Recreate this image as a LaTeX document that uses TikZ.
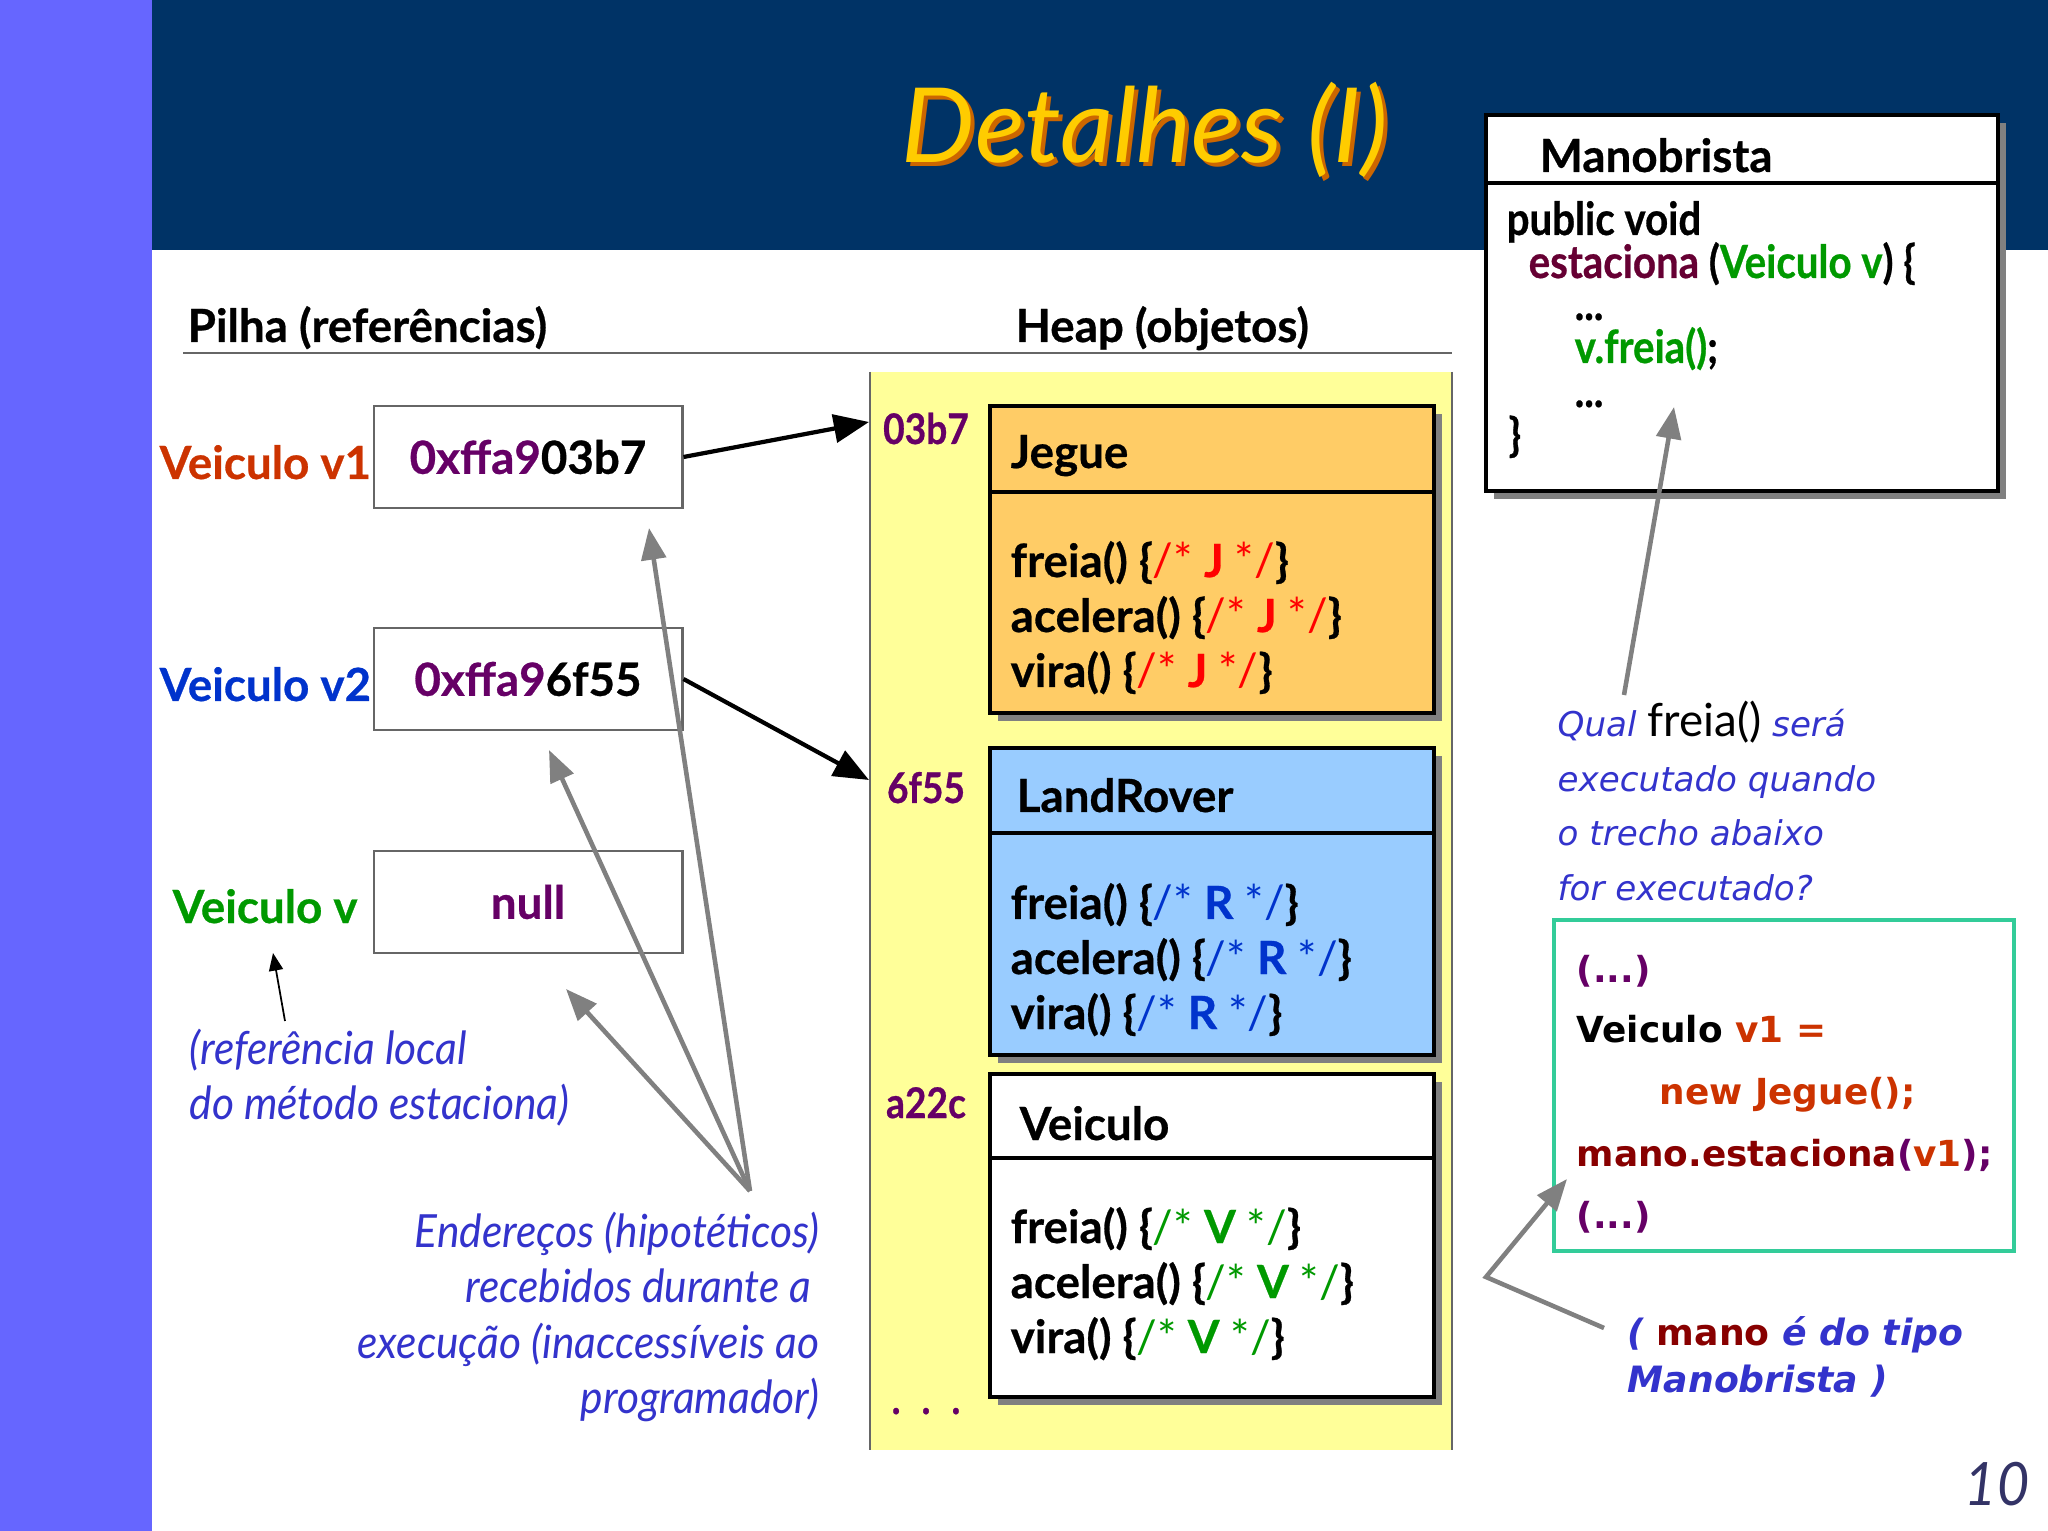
\documentclass[tikz,border=0pt]{standalone}
\usepackage{fontspec}
\setmainfont[BoldFeatures={FakeBold=0.6}]{Lato}
\newfontfamily\vfont{DejaVu Sans}
\newfontfamily\gsn[FakeStretch=0.93]{Lato}
\newfontfamily\gsb[FakeStretch=0.88,BoldFeatures={FakeBold=0.6}]{Lato}
\usetikzlibrary{arrows.meta}
\definecolor{navy}{HTML}{003366}
\definecolor{strip}{HTML}{6666FF}
\definecolor{heapy}{HTML}{FFFF99}
\definecolor{jegue}{HTML}{FFCC66}
\definecolor{rover}{HTML}{99CCFF}
\definecolor{notebl}{HTML}{3333CC}
\definecolor{purp}{HTML}{660066}
\definecolor{vone}{HTML}{CC3300}
\definecolor{vtwo}{HTML}{0033CC}
\definecolor{vgrn}{HTML}{009900}
\definecolor{tealb}{HTML}{33CC99}
\definecolor{titley}{HTML}{FFCC00}
\definecolor{titles}{HTML}{CC6600}
\definecolor{maroon}{HTML}{660033}
\definecolor{dred}{HTML}{880000}
\definecolor{agray}{HTML}{808080}
\definecolor{pnum}{HTML}{333366}
\newcommand\cmnt[2]{{\color{#1}\mdseries/*} {\color{#1}#2} {\color{#1}\mdseries*/}}
\tikzset{
  txt/.style={inner sep=0pt, anchor=base west, font=\fontsize{13}{15}\selectfont\bfseries},
  codetxt/.style={txt, font=\gsb\fontsize{13}{15}\selectfont\bfseries},
  addr/.style={inner sep=0pt, anchor=base, text=purp, font=\gsb\fontsize{12}{15}\selectfont\bfseries},
  note/.style={inner sep=0pt, anchor=base west, text=notebl, font=\gsn\fontsize{13}{15}\selectfont\itshape},
  noter/.style={note, anchor=base east},
  vq/.style={inner sep=0pt, anchor=base west, text=notebl, font=\vfont\fontsize{9.7}{12}\selectfont\itshape},
  vcode/.style={inner sep=0pt, anchor=base west, font=\vfont\fontsize{10.2}{12}\selectfont\bfseries},
  stackbox/.style={draw=black!60, fill=white, line width=0.8pt, minimum width=3.08cm, minimum height=1.02cm, inner sep=0pt, font=\fontsize{13}{15}\selectfont\bfseries},
  blk/.style={-{Triangle[length=10pt,width=8pt]}, line width=1.2pt, draw=black},
  gry/.style={-{Triangle[length=9pt,width=7pt]}, line width=1.3pt, draw=agray},
  thin/.style={-{Triangle[length=5pt,width=4pt]}, line width=0.5pt, draw=black},
  cls/.style={draw=black, line width=0.9pt},
  shade/.style={fill=agray}
}
\begin{document}
\begin{tikzpicture}[x=0.01cm,y=-0.01cm]
\useasboundingbox (0,0) rectangle (2048,1531);
\fill[white] (0,0) rectangle (2048,1531);
\fill[strip] (0,0) rectangle (152,1531);
\fill[navy] (152,0) rectangle (2048,250);

% title
\node[inner sep=0pt, anchor=base, text=titles, font=\fontsize{29.5}{32}\selectfont\itshape] (tshadow) at (1149,167) {Detalhes (I)};
\node[inner sep=0pt, anchor=base, text=titley, font=\fontsize{29.5}{32}\selectfont\itshape] (title) at (1145,163) {Detalhes (I)};

% heap area
\fill[heapy] (870,372) rectangle (1452,1450);
\draw[black!60, line width=0.8pt] (870,372) -- (870,1450);
\draw[black!60, line width=0.8pt] (1452,372) -- (1452,1450);
\draw[black!60, line width=0.8pt] (183,353) -- (1452,353);

\node[txt] (hpilha) at (187,342) {Pilha (referências)};
\node[txt] (hheap) at (1015,342) {Heap (objetos)};

% class boxes
\fill[shade] (998,414) rectangle (1442,721);
\filldraw[cls, fill=jegue] (990,406) rectangle (1434,713);
\draw[cls] (990,492) -- (1434,492);
\fill[shade] (998,756) rectangle (1442,1063);
\filldraw[cls, fill=rover] (990,748) rectangle (1434,1055);
\draw[cls] (990,833) -- (1434,833);
\fill[shade] (998,1082) rectangle (1442,1405);
\filldraw[cls, fill=white] (990,1074) rectangle (1434,1397);
\draw[cls] (990,1158) -- (1434,1158);

\node[txt] (jt) at (1010,468) {Jegue};
\node[txt] (j1) at (1010,577) {freia() \{\cmnt{red}{J}\}};
\node[txt] (j2) at (1010,632) {acelera() \{\cmnt{red}{J}\}};
\node[txt] (j3) at (1010,687) {vira() \{\cmnt{red}{J}\}};
\node[txt] (rt) at (1016,812) {LandRover};
\node[txt] (r1) at (1010,919) {freia() \{\cmnt{vtwo}{R}\}};
\node[txt] (r2) at (1010,974) {acelera() \{\cmnt{vtwo}{R}\}};
\node[txt] (r3) at (1010,1029) {vira() \{\cmnt{vtwo}{R}\}};
\node[txt] (vt) at (1019,1140) {Veiculo};
\node[txt] (v1m) at (1010,1243) {freia() \{\cmnt{vgrn}{V}\}};
\node[txt] (v2m) at (1010,1298) {acelera() \{\cmnt{vgrn}{V}\}};
\node[txt] (v3m) at (1010,1353) {vira() \{\cmnt{vgrn}{V}\}};

\node[addr] (a1) at (926,444) {03b7};
\node[addr] (a2) at (926,803) {6f55};
\node[addr] (a3) at (926,1118) {a22c};
\node[addr] (a4) at (926,1414) {.\hspace{6pt}.\hspace{6pt}.};

% stack
\node[stackbox] (b1) at (528,457) {\raisebox{-1.8pt}{{\color{purp}0xffa9}03b7}};
\node[stackbox] (b2) at (528,679) {\raisebox{-1.8pt}{{\color{purp}0xffa9}6f55}};
\node[stackbox] (b3) at (528,902) {\raisebox{-1.8pt}{\color{purp}null}};
\node[txt, text=vone] (l1) at (159,479) {Veiculo v1};
\node[txt, text=vtwo] (l2) at (159,701) {Veiculo v2};
\node[txt, text=vgrn] (l3) at (172,923) {Veiculo v};

\coordinate (h1) at (869,422);
\coordinate (h2) at (869,780);
\draw[blk] (b1.east) -- (h1);
\draw[blk] (b2.east) -- (h2);

% left notes
\node[note] (n1) at (189,1064) {(referência local};
\node[note] (n2) at (189,1119) {do método estaciona)};
\coordinate (nstart) at (285,1021);
\coordinate (nend) at (273,953);
\draw[thin] (nstart) -- (nend);

\node[noter] (e1) at (820,1247) {Endereços (hipotéticos)};
\node[noter] (e2) at (812,1302) {recebidos durante a};
\node[noter] (e3) at (820,1358) {execução (inaccessíveis ao};
\node[noter] (e4) at (820,1413) {programador)};
\coordinate (fan) at (750,1191);
\coordinate (f1) at (649,528);
\coordinate (f2) at (549,750);
\coordinate (f3) at (566,989);
\draw[gry] (fan) -- (f1);
\draw[gry] (fan) -- (f2);
\draw[gry] (fan) -- (f3);

% Manobrista
\fill[shade] (1494,123) rectangle (2006,499);
\filldraw[cls, fill=white] (1486,115) rectangle (1998,491);
\draw[cls] (1486,183) -- (1998,183);
\node[txt] (mt) at (1539,172) {Manobrista};
\node[codetxt] (m1) at (1506,235) {public void};
\node[codetxt] (m2) at (1528,278) {{\color{maroon}estaciona} ({\color{vgrn}Veiculo v}) \{};
\node[codetxt] (m3) at (1574,320) {...};
\node[codetxt] (m4) at (1574,363) {{\color{vgrn}v.freia()};};
\node[codetxt] (m5) at (1574,407) {...};
\node[codetxt] (m6) at (1508,451) {\}};

% question
\node[vq] (q1) at (1557,737) {Qual {\normalfont\fontsize{13}{15}\selectfont\color{black}freia()} será};
\node[vq] (q2) at (1557,791) {executado quando};
\node[vq] (q3) at (1557,846) {o trecho abaixo};
\node[vq] (q4) at (1557,901) {for executado?};
\coordinate (qs) at (1624,695);
\coordinate (qe) at (1674,407);
\draw[gry] (qs) -- (qe);

% code box
\draw[tealb, line width=1pt] (1554,920) rectangle (2014,1251);
\node[vcode, text=purp] (c1) at (1576,982) {(...)};
\node[vcode] (c2) at (1576,1042) {Veiculo {\color{vone}v1 =}};
\node[vcode, text=vone] (c3) at (1659,1104) {new Jegue();};
\node[vcode] (c4) at (1576,1166) {{\color{dred}mano.estaciona}{\color{purp}(}{\color{vone}v1}{\color{purp});}};
\node[vcode, text=purp] (c5) at (1576,1228) {(...)};

\node[vcode, text=notebl, font=\vfont\fontsize{10.3}{12}\selectfont\bfseries\itshape] (t1) at (1627,1345) {( {\upshape\color{dred}mano} é do tipo};
\node[vcode, text=notebl, font=\vfont\fontsize{10.3}{12}\selectfont\bfseries\itshape] (t2) at (1627,1392) {Manobrista )};
\coordinate (ts) at (1604,1328);
\coordinate (tm) at (1486,1277);
\coordinate (te) at (1567,1179);
\draw[gry] (ts) -- (tm) -- (te);

\node[inner sep=0pt, anchor=base east, text=pnum, font=\gsn\fontsize{17}{20}\selectfont\itshape] (pg) at (2030,1505) {10};
\end{tikzpicture}
\end{document}
